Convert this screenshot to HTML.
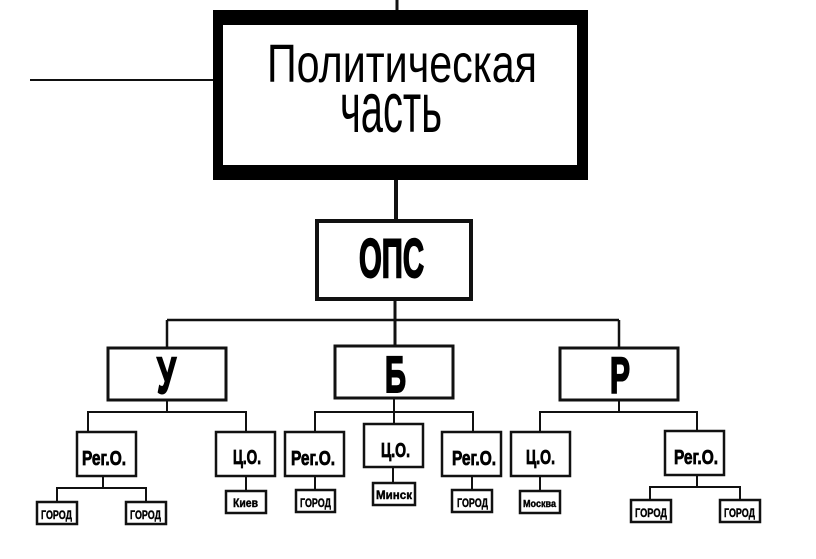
<!DOCTYPE html>
<html><head><meta charset="utf-8"><style>html,body{margin:0;padding:0;background:#fff}svg{display:block}</style></head>
<body>
<svg width="816" height="559" viewBox="0 0 816 559" xmlns="http://www.w3.org/2000/svg" font-family="'Liberation Sans', 'DejaVu Sans', sans-serif">
<rect width="816" height="559" fill="#fff"/>
<g stroke="#111" fill="none">
<path d="M213 10 H588 V180 H213 Z M223 25 V165 H577 V25 Z" fill="#000" stroke="none" fill-rule="evenodd"/>
<line x1="30" y1="80" x2="213" y2="80" stroke-width="2"/>
<line x1="397" y1="0" x2="397" y2="10" stroke-width="3"/>
<line x1="396" y1="180" x2="396" y2="221" stroke-width="4"/>
<rect x="317" y="221" width="154" height="78" stroke-width="4"/>
<line x1="395" y1="299" x2="395" y2="346" stroke-width="3"/>
<line x1="167" y1="320" x2="619" y2="320" stroke-width="2.5"/>
<line x1="167" y1="320" x2="167" y2="348" stroke-width="2.5"/>
<line x1="619" y1="320" x2="619" y2="348" stroke-width="2.5"/>
<rect x="108" y="348" width="118" height="52" stroke-width="3"/>
<rect x="335" y="346" width="118" height="52" stroke-width="3"/>
<rect x="560" y="348" width="118" height="52" stroke-width="3"/>
<path d="M167 400 V412 M88 432 V412 H246 V432" stroke-width="2"/>
<rect x="77" y="432" width="59" height="44" stroke-width="2.5"/>
<rect x="216" y="432" width="59" height="44" stroke-width="2.5"/>
<path d="M103 476 V488 M57 502 V488 H146 V502 M246 476 V491" stroke-width="2"/>
<rect x="37" y="502" width="40" height="22" stroke-width="2.5"/>
<rect x="126" y="502" width="40" height="22" stroke-width="2.5"/>
<rect x="226" y="491" width="40" height="22" stroke-width="2.5"/>
<path d="M394 398 V424 M315 432 V412 H473 V432" stroke-width="2"/>
<rect x="285" y="432" width="59" height="44" stroke-width="2.5"/>
<rect x="364" y="424" width="59" height="43" stroke-width="2.5"/>
<rect x="442" y="432" width="59" height="44" stroke-width="2.5"/>
<path d="M315 476 V490 M393 467 V483 M472 476 V490" stroke-width="2"/>
<rect x="296" y="490" width="39" height="22" stroke-width="2.5"/>
<rect x="373" y="483" width="42" height="22" stroke-width="2.5"/>
<rect x="452" y="490" width="40" height="22" stroke-width="2.5"/>
<path d="M619 400 V412 M540 432 V412 H697 V432" stroke-width="2"/>
<rect x="511" y="432" width="59" height="44" stroke-width="2.5"/>
<rect x="665" y="431" width="59" height="44" stroke-width="2.5"/>
<path d="M540 476 V491 M697 475 V487 M650 500 V487 H740 V500" stroke-width="2"/>
<rect x="520" y="491" width="40" height="22" stroke-width="2.5"/>
<rect x="631" y="500" width="40" height="22" stroke-width="2.5"/>
<rect x="720" y="500" width="40" height="22" stroke-width="2.5"/>
</g>
<g fill="#000">
<text x="267" y="82" font-size="54" textLength="270" lengthAdjust="spacingAndGlyphs">Политическая</text>
<text x="340" y="132" font-size="54" transform="translate(0,132) scale(1,1.3) translate(0,-132)" textLength="102" lengthAdjust="spacingAndGlyphs">часть</text>
<g font-weight="bold" stroke="#000">
<text x="359" y="277" font-size="55" stroke-width="2" textLength="65" lengthAdjust="spacingAndGlyphs">ОПС</text>
<text x="157" y="393" font-size="51" stroke-width="2" textLength="19" lengthAdjust="spacingAndGlyphs">У</text>
<text x="385" y="392" font-size="51" stroke-width="2" textLength="21" lengthAdjust="spacingAndGlyphs">Б</text>
<text x="610" y="393" font-size="51" stroke-width="2" textLength="20" lengthAdjust="spacingAndGlyphs">Р</text>
<g font-size="20" stroke-width="0.8">
<text x="82" y="465" textLength="44" lengthAdjust="spacingAndGlyphs">Рег.О.</text>
<text x="233" y="464" textLength="28" lengthAdjust="spacingAndGlyphs">Ц.О.</text>
<text x="291" y="465" textLength="44" lengthAdjust="spacingAndGlyphs">Рег.О.</text>
<text x="381" y="457" textLength="29" lengthAdjust="spacingAndGlyphs">Ц.О.</text>
<text x="452" y="465" textLength="44" lengthAdjust="spacingAndGlyphs">Рег.О.</text>
<text x="526" y="464" textLength="29" lengthAdjust="spacingAndGlyphs">Ц.О.</text>
<text x="674" y="464" textLength="44" lengthAdjust="spacingAndGlyphs">Рег.О.</text>
</g>
<g font-size="12" stroke-width="0.4">
<text x="41" y="519" textLength="31" lengthAdjust="spacingAndGlyphs">ГОРОД</text>
<text x="130" y="519" textLength="31" lengthAdjust="spacingAndGlyphs">ГОРОД</text>
<text x="233" y="507" textLength="25" lengthAdjust="spacingAndGlyphs">Киев</text>
<text x="300" y="507" textLength="31" lengthAdjust="spacingAndGlyphs">ГОРОД</text>
<text x="376" y="499" textLength="36" lengthAdjust="spacingAndGlyphs">Минск</text>
<text x="457" y="507" textLength="31" lengthAdjust="spacingAndGlyphs">ГОРОД</text>
<text x="523" y="507" font-size="10" textLength="33" lengthAdjust="spacingAndGlyphs">Москва</text>
<text x="635" y="517" textLength="32" lengthAdjust="spacingAndGlyphs">ГОРОД</text>
<text x="724" y="517" textLength="31" lengthAdjust="spacingAndGlyphs">ГОРОД</text>
</g>
</g>
</g>
</svg>
</body></html>
